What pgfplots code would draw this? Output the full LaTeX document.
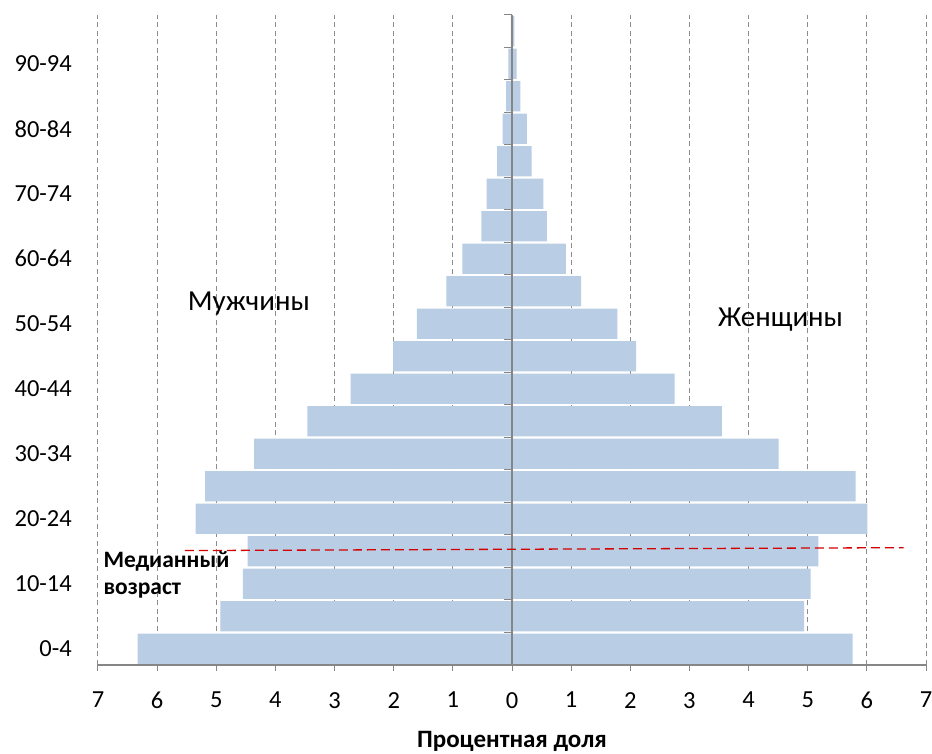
\documentclass[border=0pt]{standalone}
\usepackage{fontspec}
\setmainfont{Carlito}
\usepackage{pgfplots}
\pgfplotsset{compat=1.18}
\definecolor{barblue}{RGB}{185,205,228}
\definecolor{axgray}{RGB}{134,134,134}
\definecolor{gridgray}{RGB}{140,140,140}
\definecolor{medred}{RGB}{210,0,0}
\begin{document}
\begin{tikzpicture}
\begin{axis}[
  at={(0,0)}, anchor=south west,
  scale only axis, width=828pt, height=650pt,
  xmin=-7, xmax=7, ymin=-0.5, ymax=19.5,
  axis x line*=bottom, axis y line*=left,
  y axis line style={draw=none},
  x axis line style={draw=axgray, line width=1.5pt},
  xtick={-7,...,7},
  xticklabels={7,6,5,4,3,2,1,0,1,2,3,4,5,6,7},
  ytick={0,2,...,18},
  yticklabels={0-4,10-14,20-24,30-34,40-44,50-54,60-64,70-74,80-84,90-94},
  ytick style={draw=none},
  xtick style={draw=axgray, line width=1pt},
  tick align=outside, major tick length=6pt,
  xmajorgrids,
  grid style={gridgray, dash pattern=on 5pt off 3.5pt, line width=1pt},
  /pgf/number format/assume math mode=true,
  tick label style={font=\fontsize{24.5}{28}\selectfont},
  yticklabel style={anchor=east, inner sep=0pt, xshift=-20pt},
  xticklabel style={anchor=north, inner sep=0pt, yshift=-21pt},
  clip=false,
]
% men (plotted to the left)
\addplot[xbar, bar width=0.93, bar shift=0pt, fill=barblue, draw=none] coordinates {
(-6.33,0) (-4.93,1) (-4.55,2) (-4.47,3) (-5.35,4) (-5.19,5) (-4.36,6) (-3.46,7)
(-2.73,8) (-2.01,9) (-1.61,10) (-1.11,11) (-0.84,12) (-0.52,13) (-0.43,14)
(-0.25,15) (-0.16,16) (-0.10,17) (-0.06,18) (-0.02,19)};
% women (plotted to the right)
\addplot[xbar, bar width=0.93, bar shift=0pt, fill=barblue, draw=none] coordinates {
(5.76,0) (4.94,1) (5.05,2) (5.18,3) (6.01,4) (5.81,5) (4.51,6) (3.55,7)
(2.75,8) (2.10,9) (1.78,10) (1.17,11) (0.91,12) (0.59,13) (0.53,14)
(0.33,15) (0.25,16) (0.14,17) (0.08,18) (0.04,19)};
% central axis
\draw[axgray, line width=1.5pt] (axis cs:0,-0.5) -- (axis cs:0,19.5);
\pgfplotsinvokeforeach{-0.5,0.5,...,19.5}{
  \draw[axgray, line width=1pt] (axis cs:0,#1) -- ([xshift=-8pt]axis cs:0,#1);
}
% median age line
\addplot[medred, line width=1.3pt, dash pattern=on 9pt off 5pt] coordinates {(-5.53,3.02) (6.62,3.11)};
\node[anchor=base, font=\fontsize{29}{33}\selectfont] at (axis cs:-4.45,10.41) {Мужчины};
\node[anchor=base, font=\fontsize{29}{33}\selectfont] at (axis cs:4.54,9.90) {Женщины};
\node[anchor=base west, inner sep=0pt, font=\bfseries\fontsize{23.5}{28}\selectfont] at (axis cs:-6.91,2.50) {Медианный};
\node[anchor=base west, inner sep=0pt, font=\bfseries\fontsize{23.5}{28}\selectfont] at (axis cs:-6.91,1.66) {возраст};
\node[anchor=base, inner sep=0pt, yshift=-83pt, font=\bfseries\fontsize{25}{30}\selectfont] at (axis cs:0,-0.5) {Процентная доля};
\end{axis}
\pgfresetboundingbox
\path[use as bounding box] (-98pt,-89pt) rectangle (834pt,665pt);
\end{tikzpicture}
\end{document}
